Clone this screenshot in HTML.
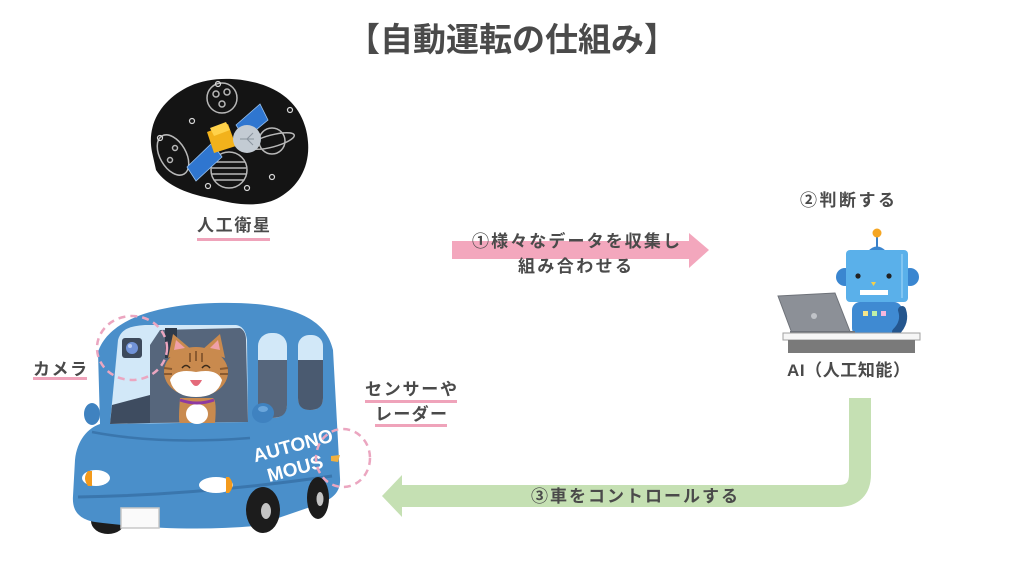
<!DOCTYPE html>
<html><head><meta charset="utf-8">
<style>
html,body{margin:0;padding:0;background:#fff;}
svg{display:block;}
text{font-family:"Liberation Sans","Noto Sans CJK JP",sans-serif;font-weight:bold;fill:#4a4a4a;}
</style></head>
<body>
<svg width="1024" height="576" viewBox="0 0 1024 576" xmlns="http://www.w3.org/2000/svg">
<rect width="1024" height="576" fill="#fff"/>

<!-- Title -->
<text x="512" y="51" font-size="33" text-anchor="middle">【自動運転の仕組み】</text>

<!-- Satellite blob -->
<g>
<path d="M152,152 C146,122 164,98 190,86 C212,76 242,77 266,86 C292,96 306,116 308,142 C310,166 299,186 280,197 C262,208 236,205 215,199 C190,195 166,186 156,170 Z" fill="#141414"/>
<g fill="none" stroke="#b8b8b8" stroke-width="1.5">
<circle cx="222" cy="98" r="15"/>
<circle cx="216" cy="94" r="3"/><circle cx="227" cy="92" r="3"/><circle cx="222" cy="104" r="3"/>
<ellipse cx="173" cy="155" rx="13" ry="22" transform="rotate(-30 173 155)"/>
<circle cx="175" cy="148" r="2.5"/><circle cx="170" cy="160" r="2.5"/>
<circle cx="272" cy="141" r="13"/>
<ellipse cx="272" cy="141" rx="23" ry="6" transform="rotate(-15 272 141)"/>
<circle cx="229" cy="170" r="18"/>
<path d="M213,162 H245 M212,168 H246 M212,174 H246 M214,180 H244"/>
</g>
<g fill="none" stroke="#d8d8d8" stroke-width="1.2">
<circle cx="218" cy="84" r="2.5"/><circle cx="192" cy="121" r="2.5"/><circle cx="160" cy="138" r="2.5"/>
<circle cx="208" cy="186" r="2.5"/><circle cx="272" cy="177" r="2.5"/><circle cx="247" cy="188" r="2.5"/>
<circle cx="290" cy="110" r="2.5"/>
</g>
<polygon points="187,167 212,143 222,157 196,181" fill="#2f76d0" stroke="#9bc4f0" stroke-width="0.8"/>
<polygon points="236,125 260,104 268,120 245,139" fill="#2f76d0" stroke="#9bc4f0" stroke-width="0.8"/>
<polygon points="207,132 228,124 236,146 214,153" fill="#f2b21c"/>
<polygon points="210,128 226,122 230,130 214,136" fill="#ffd24a"/>
<circle cx="247" cy="139" r="14" fill="#c3cbd3"/>
<path d="M240,139 L254,139 M247,139 L253,133 M247,139 L253,145" stroke="#8a949e" stroke-width="1"/>
</g>
<text x="197" y="231" font-size="17" textLength="73" lengthAdjust="spacing">人工衛星</text>
<rect x="197" y="238" width="73" height="3" fill="#efa3ba"/>

<!-- Pink arrow -->
<rect x="452" y="241" width="238" height="18" fill="#f3a7bd"/>
<polygon points="689,233 709,250 689,268" fill="#f3a7bd"/>
<text x="472" y="247" font-size="17" textLength="208" lengthAdjust="spacing">①様々なデータを収集し</text>
<text x="518" y="272" font-size="17" textLength="114" lengthAdjust="spacing">組み合わせる</text>

<!-- Robot -->
<g>
<text x="800" y="206" font-size="17" textLength="95" lengthAdjust="spacing">②判断する</text>
<line x1="877" y1="236" x2="877" y2="251" stroke="#3a80c8" stroke-width="2"/>
<circle cx="877" cy="233" r="4.5" fill="#f5a623"/>
<path d="M868,251 Q877,242 886,251 Z" fill="#3a86d0"/>
<circle cx="845" cy="277" r="9" fill="#3a86d0"/>
<circle cx="910" cy="277" r="9" fill="#3a86d0"/>
<rect x="846" y="250" width="62" height="52" rx="4" fill="#5ab0ea"/>
<line x1="902" y1="254" x2="902" y2="298" stroke="#8cccf4" stroke-width="1.5"/>
<circle cx="858" cy="276" r="2.6" fill="#222"/>
<circle cx="889" cy="276" r="2.6" fill="#222"/>
<polygon points="871,282 876,282 873.5,286" fill="#f5d04a"/>
<rect x="860" y="290" width="28" height="5" fill="#fff"/>
<rect x="852" y="302" width="50" height="34" rx="8" fill="#3f8ad2"/>
<rect x="863" y="311" width="5" height="5" fill="#f6e68a"/>
<rect x="872" y="311" width="5" height="5" fill="#bff0a8"/>
<rect x="881" y="311" width="5" height="5" fill="#f5b6dc"/>
<path d="M902,310 Q906,322 896,332" stroke="#24568e" stroke-width="8" fill="none" stroke-linecap="round"/>
<polygon points="778,296 835,293 851,334 793,336" fill="#8c9097" stroke="#6e7279" stroke-width="1"/>
<circle cx="814" cy="316" r="3" fill="#c0c3c8"/>
<rect x="790" y="331" width="65" height="3" fill="#6e7279"/>
<rect x="783" y="333" width="137" height="7" fill="#f6f6f6" stroke="#a0a0a0" stroke-width="1"/>
<rect x="788" y="340" width="127" height="13" fill="#7a7a7a"/>
<text x="787" y="376" font-size="17" textLength="123" lengthAdjust="spacing">AI（人工知能）</text>
</g>

<!-- Green arrow -->
<path d="M860,398 V474 Q860,496 838,496 H400" fill="none" stroke="#c5e0b3" stroke-width="22"/>
<polygon points="402,475 382,496 402,517" fill="#c5e0b3"/>
<text x="531" y="502" font-size="17" textLength="207" lengthAdjust="spacing">③車をコントロールする</text>

<!-- Car -->
<g>
<ellipse cx="108" cy="521" rx="17" ry="13" fill="#1c1c1c"/>
<path d="M98,352 C108,322 150,305 215,303 C290,301 326,318 333,350 L340,478 C341,492 333,498 322,503 L255,526 C200,531 140,528 95,522 C78,519 72,510 73,496 L75,460 C77,440 88,428 100,424 Z" fill="#4a8fca"/>
<ellipse cx="92" cy="414" rx="8" ry="11" fill="#3f82c0"/>
<path d="M110,424 L118,340 C121,329 130,326 145,325 L236,325 C243,326 246,332 247,340 L248,422 Z" fill="#d2e8f8"/>
<path d="M160,330 L240,328 C244,330 246,334 246,340 L248,422 L150,423 L150,345 Z" fill="#56667c"/>
<rect x="165" y="328" width="12" height="30" fill="#2e3a4a"/>
<path d="M112,405 L150,395 L150,423 L110,424 Z" fill="#3e4c60"/>
<rect x="122" y="338" width="20" height="20" rx="3" fill="#3d4a5c"/>
<circle cx="132" cy="348" r="6" fill="#7193d8"/>
<circle cx="130" cy="346" r="2" fill="#b9ccf2"/>
<!-- cat -->
<path d="M180,398 Q178,423 180,423 L215,423 Q217,400 213,398 Z" fill="#c98a4e"/>
<ellipse cx="197" cy="414" rx="11" ry="10" fill="#fff"/>
<path d="M180,400 Q197,406 214,400" stroke="#8e3aa0" stroke-width="3" fill="none"/>
<polygon points="168,358 173,334 192,350" fill="#c98a4e"/>
<polygon points="202,350 220,334 225,358" fill="#c98a4e"/>
<polygon points="174,350 176,340 185,348" fill="#f0a0a8"/>
<polygon points="210,348 218,340 220,350" fill="#f0a0a8"/>
<ellipse cx="196" cy="372" rx="32" ry="25" fill="#c98a4e"/>
<path d="M170,380 Q175,368 196,372 Q217,368 222,380 Q218,397 196,397 Q174,397 170,380 Z" fill="#fff"/>
<path d="M182,368 Q186,363 190,368 M202,368 Q206,363 210,368" stroke="#3a2a1a" stroke-width="1.5" fill="none"/>
<path d="M190,380 Q196,392 202,380 Z" fill="#e46a7a"/>
<path d="M190,353 L190,362 M196,351 L196,361 M202,353 L202,362" stroke="#8a5a30" stroke-width="2"/>
<path d="M164,368 L172,369 M164,374 L172,374 M228,368 L220,369 M228,374 L220,374" stroke="#8a5a30" stroke-width="2"/>
<!-- side windows -->
<rect x="258" y="333" width="29" height="85" rx="13" fill="#d2e8f8"/>
<path d="M258,360 H287 V405 Q287,418 272,418 Q258,418 258,405 Z" fill="#56667c"/>
<rect x="298" y="335" width="25" height="75" rx="11" fill="#d2e8f8"/>
<path d="M298,360 H323 V398 Q323,410 310,410 Q298,410 298,398 Z" fill="#4a5a70"/>
<ellipse cx="263" cy="413" rx="11" ry="10" fill="#3f82c0"/>
<ellipse cx="263" cy="409" rx="5" ry="3" fill="#6aa6dc"/>
<path d="M92,432 Q160,445 250,438" stroke="#3a76ad" stroke-width="2.5" fill="none"/>
<path d="M78,497 Q200,495 332,476" stroke="#3a76ad" stroke-width="3" fill="none"/>
<!-- headlights -->
<ellipse cx="96" cy="478" rx="14" ry="8" fill="#fff"/>
<path d="M88,471 Q82,478 88,486 L92,486 L92,471 Z" fill="#f39a1c"/>
<ellipse cx="216" cy="485" rx="17" ry="8" fill="#fff"/>
<path d="M226,477 L229,477 Q236,485 229,493 L226,493 Z" fill="#f39a1c"/>
<rect x="121" y="508" width="38" height="20" fill="#fafafa" stroke="#c8c8c8" stroke-width="1.5"/>
<!-- wheels -->
<ellipse cx="263" cy="510" rx="17" ry="23" fill="#1c1c1c"/>
<ellipse cx="266" cy="511" rx="5" ry="8" fill="#c4c4c4"/>
<ellipse cx="318" cy="498" rx="11" ry="21" fill="#1c1c1c"/>
<ellipse cx="320" cy="499" rx="3.5" ry="7" fill="#c4c4c4"/>
<path d="M331,456 L340,455 L338,462 L331,461 Z" fill="#f0b040"/>
<text x="293" y="452" font-size="19" text-anchor="middle" fill="#fff" style="fill:#fff" transform="rotate(-15 293 446)">AUTONO</text>
<text x="295" y="475" font-size="19" text-anchor="middle" style="fill:#fff" transform="rotate(-15 295 468)">MOUS</text>
<!-- dashed circles -->
<ellipse cx="132" cy="348" rx="35" ry="32" fill="none" stroke="#eba6c0" stroke-width="2.5" stroke-dasharray="7 5"/>
<ellipse cx="343" cy="458" rx="27" ry="29" fill="none" stroke="#eba6c0" stroke-width="2.5" stroke-dasharray="7 5"/>
</g>

<!-- Car labels -->
<text x="33" y="375" font-size="17" textLength="54" lengthAdjust="spacing">カメラ</text>
<rect x="33" y="377" width="54" height="3" fill="#efa3ba"/>
<text x="365" y="395" font-size="17" textLength="92" lengthAdjust="spacing">センサーや</text>
<rect x="365" y="400" width="92" height="3" fill="#efa3ba"/>
<text x="375" y="420" font-size="17" textLength="72" lengthAdjust="spacing">レーダー</text>
<rect x="375" y="424" width="72" height="3" fill="#efa3ba"/>
</svg>
</body></html>
